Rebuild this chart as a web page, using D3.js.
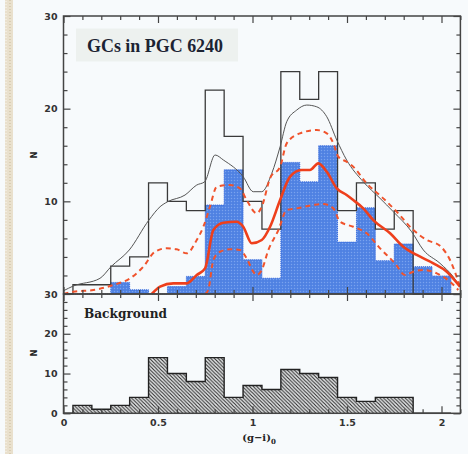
<!DOCTYPE html>
<html><head><meta charset="utf-8">
<script src="https://cdn.jsdelivr.net/npm/d3@7"></script>
<style>html,body{margin:0;padding:0;background:#f7fafc;}svg{display:block;}</style>
</head><body>
<script>
// ---- data ----
const binCenters = [0.1,0.2,0.3,0.4,0.5,0.6,0.7,0.8,0.9,1.0,1.1,1.2,1.3,1.4,1.5,1.6,1.7,1.8,1.9,2.0];
const totalCounts = [1,1,3,4,12,10,9,22,17,10,7,24,21,24,9,12,7,9,0,0];
const gcCounts = [0,0,1.25,0.45,0,0.8,1.9,9.6,13.4,3.7,1.7,14.2,12.1,16,5.6,9.3,3.6,5.4,2.95,1.95];
const bgCounts = [2,1,2,4,14,10,8,14,4,7,6,11,10,9,4,3,4,4,0,0];
const binWidth = 0.1;

const totalSmoothX = [0,0.052,0.193,0.251,0.348,0.452,0.511,0.551,0.643,0.705,0.747,0.802,0.846,0.951,1.004,1.049,1.102,1.146,1.181,1.234,1.287,1.340,1.393,1.446,1.498,1.586,1.675,1.745,1.842,1.904,1.992,2.062,2.098];
const totalSmoothY = [0.35,0.86,1.69,2.94,4.75,7.98,9.42,9.96,10.68,11.76,12.11,15.0,14.46,12.65,11.04,11.04,13.02,15.89,18.59,19.85,20.39,20.2,19.13,16.61,14.46,12.11,10.32,8.88,6.72,4.75,3.31,1.87,0.79];

const gcSmoothX = [0.467,0.511,0.581,0.652,0.705,0.749,0.793,0.846,0.916,0.951,0.996,1.049,1.093,1.146,1.198,1.26,1.304,1.348,1.393,1.446,1.498,1.533,1.586,1.639,1.728,1.798,1.869,1.957,2.028,2.098];
const gcSmoothY = [0,0.79,1.15,1.15,2.05,2.77,6.9,7.69,7.8,7.26,5.47,5.83,7.26,10.14,12.65,13.38,13.38,14.1,13.19,11.4,10.68,10.14,9.24,7.98,6.55,5.1,4.21,3.31,2.41,0.79];

const gcUpperX = [0,0.052,0.158,0.263,0.352,0.422,0.484,0.546,0.599,0.652,0.705,0.740,0.775,0.811,0.881,0.934,0.969,1.022,1.049,1.093,1.146,1.181,1.251,1.34,1.393,1.428,1.454,1.498,1.533,1.604,1.692,1.763,1.851,1.922,1.992,2.045,2.098];
const gcUpperY = [0,0.25,0.43,0.97,1.69,2.94,4.56,4.93,4.82,4.39,5.83,7.26,9.42,11.57,11.76,11.4,10.14,8.71,9.42,12.5,13.73,16.26,17.34,17.69,17.34,16.26,14.81,14.27,13.73,11.94,10.32,8.88,6.9,5.83,5.2,3.67,0.79];

const gcLowerX = [0.75,0.766,0.793,0.828,0.881,0.934,0.969,1.004,1.022,1.049,1.084,1.137,1.181,1.234,1.322,1.375,1.428,1.463,1.533,1.604,1.675,1.754,1.807,1.851,1.904,1.975,2.045,2.089];
const gcLowerY = [0,0.43,3.67,4.56,4.82,4.75,3.85,2.41,2.05,2.59,4.75,6.9,9.06,9.24,9.6,9.71,9.24,7.8,7.26,6.55,4.93,3.31,2.05,2.41,2.59,2.23,1.33,0.43];

const xTickLabels = ["0","0.5","1","1.5","2"];
const xTickValues = [0,0.5,1,1.5,2];
const topYLabels = ["30","20","10"];
const topYValues = [30,20,10];
const botYLabels = ["30","20","10","0"];
const botYValues = [30,20,10,0];

// ---- layout ----
const W = 468, H = 454;
const L = 63.5, R = 460.4, T = 16, M = 294, B = 413.3;
const svg = d3.select("body").append("svg").attr("width", W).attr("height", H);
svg.append("rect").attr("width", W).attr("height", H).attr("fill", "#f7fafc");

const defs = svg.append("defs");
const sp = defs.append("pattern").attr("id","strip").attr("patternUnits","userSpaceOnUse").attr("width",8).attr("height",3);
sp.append("rect").attr("width",8).attr("height",3).attr("fill","#e9e0cd");
sp.append("rect").attr("x",1).attr("y",0).attr("width",2).attr("height",1).attr("fill","#d9cdb3");
sp.append("rect").attr("x",5).attr("y",1).attr("width",2).attr("height",1).attr("fill","#f2ecdf");
svg.append("rect").attr("x",5).attr("y",0).attr("width",8).attr("height",H).attr("fill","url(#strip)");

const bp = defs.append("pattern").attr("id","stip").attr("patternUnits","userSpaceOnUse").attr("width",3).attr("height",3);
bp.append("rect").attr("width",3).attr("height",3).attr("fill","#5486e4");
bp.append("rect").attr("x",0).attr("y",0).attr("width",1).attr("height",1).attr("fill","#7aa2ee");
bp.append("rect").attr("x",1.5).attr("y",1.5).attr("width",1).attr("height",1).attr("fill","#3f74dc");
const hp = defs.append("pattern").attr("id","hatch").attr("patternUnits","userSpaceOnUse").attr("width",3.6).attr("height",3.6);
hp.append("rect").attr("width",3.6).attr("height",3.6).attr("fill","#e8eaeb");
hp.append("path").attr("d","M-1,-1 L4.6,4.6 M-1,2.6 L1,4.6 M2.6,-1 L4.6,1").attr("stroke","#2a2a2a").attr("stroke-width",1.1);

const x = d3.scaleLinear().domain([0,2.1]).range([L,R]);
const yT = d3.scaleLinear().domain([0,30]).range([M,T]);
const yB = d3.scaleLinear().domain([0,30]).range([B,M]);

function stepPoints(vals){
  const pts = binCenters.map((c,i)=>[c-binWidth/2, vals[i]]);
  pts.push([binCenters[binCenters.length-1]+binWidth/2, 0]);
  return pts;
}

svg.append("rect").attr("x",76).attr("y",28.5).attr("width",162).attr("height",33).attr("fill","#edf1ef");

const gcPts = stepPoints(gcCounts);
svg.append("path").datum(gcPts)
  .attr("d", d3.area().curve(d3.curveStepAfter).x(d=>x(d[0])).y0(yT(0)).y1(d=>yT(d[1])))
  .attr("fill","url(#stip)");
svg.append("path").datum(gcPts)
  .attr("d", d3.line().curve(d3.curveStepAfter).x(d=>x(d[0])).y(d=>yT(d[1])))
  .attr("fill","none").attr("stroke","#2f63dc").attr("stroke-width",1).attr("stroke-dasharray","1,1");

const totPts = [[0,0]].concat(stepPoints(totalCounts));
svg.append("path").datum(totPts)
  .attr("d", d3.line().curve(d3.curveStepAfter).x(d=>x(d[0])).y(d=>yT(d[1])))
  .attr("fill","none").attr("stroke","#3a3a3a").attr("stroke-width",1.3);

const line = d3.line().curve(d3.curveMonotoneX).x(d=>x(d[0])).y(d=>yT(d[1]));
svg.append("path").datum(d3.zip(totalSmoothX,totalSmoothY)).attr("d",line)
  .attr("fill","none").attr("stroke","#555").attr("stroke-width",1);
svg.append("path").datum(d3.zip(gcUpperX,gcUpperY)).attr("d",line)
  .attr("fill","none").attr("stroke","#f0532c").attr("stroke-width",2).attr("stroke-dasharray","5,4");
svg.append("path").datum(d3.zip(gcLowerX,gcLowerY)).attr("d",line)
  .attr("fill","none").attr("stroke","#f0532c").attr("stroke-width",2).attr("stroke-dasharray","5,4");
svg.append("path").datum(d3.zip(gcSmoothX,gcSmoothY)).attr("d",line)
  .attr("fill","none").attr("stroke","#ee3f1c").attr("stroke-width",2.6);

const bgPts = stepPoints(bgCounts);
svg.append("path").datum(bgPts)
  .attr("d", d3.area().curve(d3.curveStepAfter).x(d=>x(d[0])).y0(yB(0)).y1(d=>yB(d[1])))
  .attr("fill","url(#hatch)");
svg.append("path").datum([[0,0]].concat(bgPts))
  .attr("d", d3.line().curve(d3.curveStepAfter).x(d=>x(d[0])).y(d=>yB(d[1])))
  .attr("fill","none").attr("stroke","#222").attr("stroke-width",1.4);

// ---- axes ----
const axCol = "#444";
function addAxis(gen, tx, ty){
  const g = svg.append("g").attr("transform",`translate(${tx},${ty})`).call(gen);
  g.select(".domain").remove();
  g.selectAll("line").attr("stroke",axCol).attr("stroke-width",1.2);
  g.selectAll("text").attr("font-family","DejaVu Sans").attr("font-weight","bold").attr("font-size",9.5).attr("fill","#333");
  return g;
}
const minorX = d3.range(0,2.11,0.1).filter(v=>Math.abs(v*2-Math.round(v*2))>1e-6);
const majorX = [0,0.5,1,1.5,2];
const minorY = d3.range(0,31,2).filter(v=>v%10!==0);
const majorY = [0,10,20,30];

addAxis(d3.axisTop(x).tickValues(minorX).tickSize(-4).tickFormat(""),0,T);
addAxis(d3.axisTop(x).tickValues(majorX).tickSize(-7).tickFormat(""),0,T);
addAxis(d3.axisBottom(x).tickValues(minorX).tickSize(-4).tickFormat(""),0,M);
addAxis(d3.axisBottom(x).tickValues(majorX).tickSize(-7).tickFormat(""),0,M);
addAxis(d3.axisLeft(yT).tickValues(minorY).tickSize(-4).tickFormat(""),L,0);
addAxis(d3.axisLeft(yT).tickValues(topYValues).tickSize(-7).tickPadding(6).tickFormat((d,i)=>topYLabels[i]),L,0);
addAxis(d3.axisRight(yT).tickValues(minorY).tickSize(-4).tickFormat(""),R,0);
addAxis(d3.axisRight(yT).tickValues(majorY).tickSize(-7).tickFormat(""),R,0);
addAxis(d3.axisTop(x).tickValues(minorX).tickSize(-4).tickFormat(""),0,M);
addAxis(d3.axisTop(x).tickValues(majorX).tickSize(-7).tickFormat(""),0,M);
addAxis(d3.axisBottom(x).tickValues(minorX).tickSize(-4).tickFormat(""),0,B);
addAxis(d3.axisBottom(x).tickValues(xTickValues).tickSize(-7).tickPadding(6).tickFormat((d,i)=>xTickLabels[i]),0,B);
addAxis(d3.axisLeft(yB).tickValues(minorY).tickSize(-4).tickFormat(""),L,0);
addAxis(d3.axisLeft(yB).tickValues(botYValues).tickSize(-7).tickPadding(6).tickFormat((d,i)=>botYLabels[i]),L,0);
addAxis(d3.axisRight(yB).tickValues(minorY).tickSize(-4).tickFormat(""),R,0);
addAxis(d3.axisRight(yB).tickValues(majorY).tickSize(-7).tickFormat(""),R,0);

svg.append("rect").attr("x",L).attr("y",T).attr("width",R-L).attr("height",M-T).attr("fill","none").attr("stroke",axCol).attr("stroke-width",1.5);
svg.append("rect").attr("x",L).attr("y",M).attr("width",R-L).attr("height",B-M).attr("fill","none").attr("stroke",axCol).attr("stroke-width",1.5);

svg.append("text").attr("x",87).attr("y",51.5).attr("font-family","Liberation Serif").attr("font-weight","bold")
  .attr("font-size",18).attr("fill","#1c2333").attr("textLength",136).attr("lengthAdjust","spacingAndGlyphs").text("GCs in PGC 6240");
svg.append("text").attr("x",84).attr("y",317.5).attr("font-family","DejaVu Serif").attr("font-weight","bold")
  .attr("font-size",12).attr("fill","#222").attr("textLength",83).attr("lengthAdjust","spacingAndGlyphs").text("Background");
svg.append("text").attr("transform","translate(37,155) rotate(-90)").attr("text-anchor","middle")
  .attr("font-family","DejaVu Sans").attr("font-weight","bold").attr("font-size",8.5).attr("fill","#222").text("N");
svg.append("text").attr("transform","translate(37,353) rotate(-90)").attr("text-anchor","middle")
  .attr("font-family","DejaVu Sans").attr("font-weight","bold").attr("font-size",8.5).attr("fill","#222").text("N");
const xl = svg.append("text").attr("x",259).attr("y",441).attr("text-anchor","middle")
  .attr("font-family","DejaVu Serif").attr("font-weight","bold").attr("font-size",10).attr("fill","#222");
xl.append("tspan").text("(g\u2212i)");
xl.append("tspan").attr("dy",2.5).attr("font-size",7).text("0");
</script>
</body></html>
